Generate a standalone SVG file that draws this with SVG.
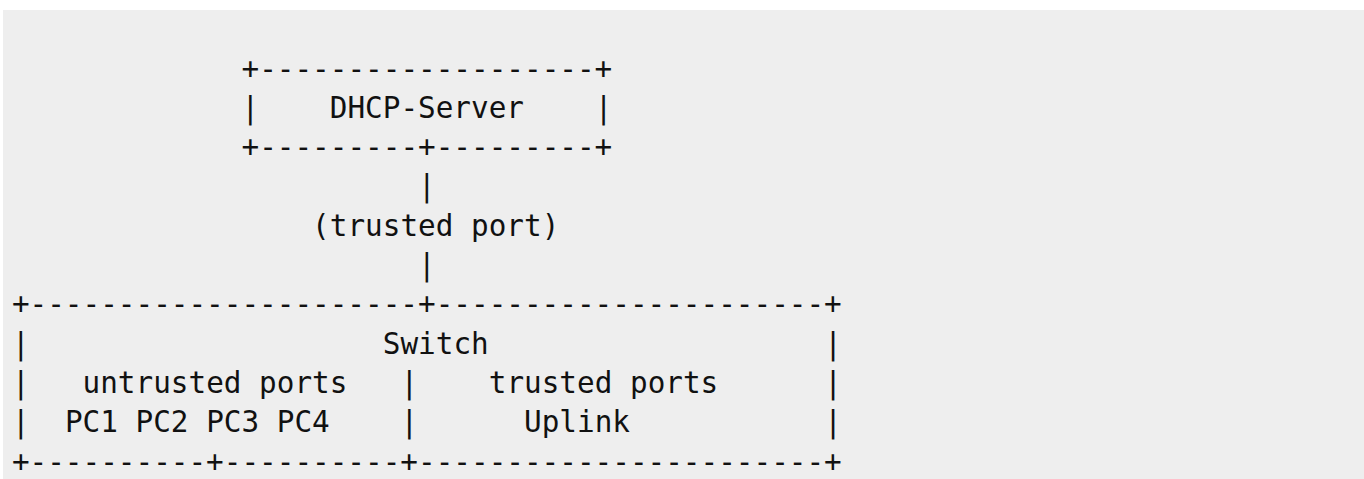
<svg xmlns="http://www.w3.org/2000/svg" width="1364" height="479" viewBox="0 0 1364 479">
<style>
.bg{fill:#ffffff}
.panel{fill:#eeeeee}
.t{font-family:"DejaVu Sans Mono",monospace;font-size:29.33px;fill:#111111}
</style>
<rect class="bg" x="0" y="0" width="1364" height="479"/>
<rect class="panel" x="3" y="10" width="1361" height="469"/>
<g id="dhcp-server" class="t">
<text x="241.48" y="78.5">+-------------------+</text>
<text x="241.48" y="117.8">|</text>
<text x="329.78" y="117.8">DHCP-Server</text>
<text x="594.68" y="117.8">|</text>
<text x="241.48" y="157.1">+---------+---------+</text>
</g>
<g id="connectors" class="t">
<text x="418.08" y="196.4">|</text>
<text x="312.12" y="235.7">(trusted port)</text>
<text x="418.08" y="275">|</text>
</g>
<g id="switch" class="t">
<text x="11.9" y="314.3">+----------------------+----------------------+</text>
<text x="11.9" y="353.6">|</text>
<text x="382.76" y="353.6">Switch</text>
<text x="824.26" y="353.6">|</text>
<text x="11.9" y="392.9">|</text>
<text x="82.54" y="392.9">untrusted ports</text>
<text x="400.42" y="392.9">|</text>
<text x="488.72" y="392.9">trusted ports</text>
<text x="824.26" y="392.9">|</text>
<text x="11.9" y="432.2">|</text>
<text x="64.88" y="432.2">PC1 PC2 PC3 PC4</text>
<text x="400.42" y="432.2">|</text>
<text x="524.04" y="432.2">Uplink</text>
<text x="824.26" y="432.2">|</text>
<text x="11.9" y="471.5">+----------+----------+-----------------------+</text>
</g>
</svg>
